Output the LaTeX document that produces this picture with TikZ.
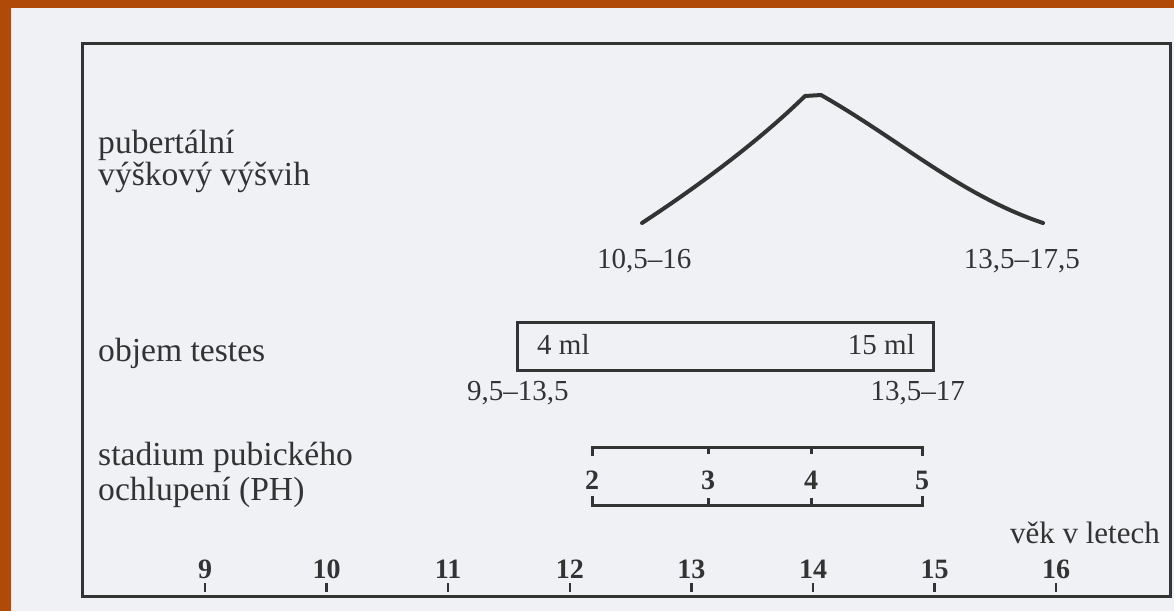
\documentclass[tikz,border=0pt]{standalone}
\usepackage{fontspec}
\setmainfont{Liberation Serif}
\definecolor{inkc}{HTML}{333333}
\definecolor{paper}{HTML}{F0F1F4}
\definecolor{frameorange}{HTML}{B04A08}
\tikzset{
  inkline/.style={draw=inkc, line width=2.6pt},
  thickink/.style={draw=inkc, line width=4pt, line cap=round, line join=round},
  word/.style={inner sep=0pt, anchor=base west, text=inkc, font=\fontsize{33.6}{37}\selectfont},
  rnum/.style={inner sep=0pt, text=inkc, font=\fontsize{29}{32}\selectfont},
  bnum/.style={inner sep=0pt, anchor=base, text=inkc, font=\fontsize{28}{31}\selectfont\bfseries},
}
\begin{document}
\begin{tikzpicture}[x=1pt,y=-1pt]
\useasboundingbox (0,0) rectangle (1174,611);
% page and photo edges
\fill[paper] (0,0) rectangle (1174,611);
\fill[frameorange] (0,0) rectangle (1174,8);
\fill[frameorange] (0,0) rectangle (11,611);
% outer frame
\node[inkline, inner sep=0pt, minimum width=1088pt, minimum height=553pt, anchor=north west] (frame) at (81,42) {};

% left labels
\node[word] (pub1) at (98,153) {pubertální};
\node[word] (pub2) at (98,185) {výškový výšvih};
\node[word] (obj) at (98,361) {objem testes};
\node[word] (sta1) at (98,465) {stadium pubického};
\node[word] (sta2) at (98,500) {ochlupení (PH)};

% growth spurt peak
\coordinate (gL) at (642,223);
\coordinate (gP1) at (805,96);
\coordinate (gP2) at (821,95);
\coordinate (gR) at (1043,223);
\draw[thickink] (gL) .. controls (700,185) and (760,140) .. (gP1) -- (gP2)
  .. controls (900,140) and (960,195) .. (gR);
\node[rnum, anchor=base west] (gl1) at (597,268) {10,5–16};
\node[rnum, anchor=base east] (gl2) at (1080,268) {13,5–17,5};

% testes volume box
\node[inkline, line width=3pt, inner sep=0pt, minimum width=416pt, minimum height=48pt] (tbox) at (725,346) {};
\node[rnum, anchor=base west] (t4) at (537,354) {4 ml};
\node[rnum, anchor=base east] (t15) at (915,354) {15 ml};
\node[rnum, anchor=base west] (tl1) at (467,400) {9,5–13,5};
\node[rnum, anchor=base east] (tl2) at (965,400) {13,5–17};

% pubic hair stages
\coordinate (ph2t) at (592,447);
\coordinate (ph5t) at (922,447);
\coordinate (ph2b) at (592,505);
\coordinate (ph5b) at (922,505);
\draw[inkline, line width=3pt] ([yshift=-9pt]ph2t) -- (ph2t) -- (ph5t) -- ([yshift=-9pt]ph5t);
\draw[inkline, line width=3pt] ([yshift=9pt]ph2b) -- (ph2b) -- (ph5b) -- ([yshift=9pt]ph5b);
\foreach \x in {708,811} {
  \draw[inkline, line width=3pt] (\x,447) -- (\x,454);
  \draw[inkline, line width=3pt] (\x,505) -- (\x,498);
}
\node[bnum] (s2) at (592,489) {2};
\node[bnum] (s3) at (708,489) {3};
\node[bnum] (s4) at (811,489) {4};
\node[bnum] (s5) at (922,489) {5};

% age axis
\node[inner sep=0pt, anchor=base east, text=inkc, font=\fontsize{31}{34}\selectfont] (age) at (1160,543) {věk v letech};
\foreach \a [count=\i from 0] in {9,10,11,12,13,14,15,16} {
  \pgfmathsetmacro{\xx}{205+121.6*\i}
  \draw[inkc, line width=2.5pt] (\xx,583) -- (\xx,592);
  \node[bnum] (a\a) at (\xx,578) {\a};
}
\end{tikzpicture}
\end{document}
